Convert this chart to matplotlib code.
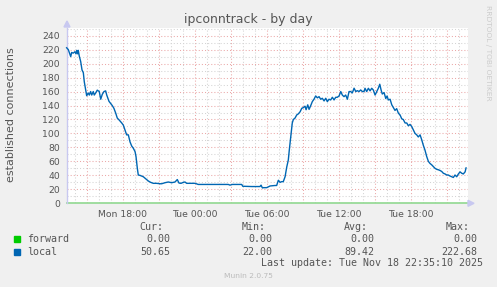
import matplotlib
matplotlib.use("Agg")
import matplotlib.pyplot as plt
from matplotlib.patches import Rectangle, Polygon
import numpy as np

# hours since Mon 00:00
hours = [13.33, 13.47, 13.67, 13.75, 13.88, 14.02, 14.11, 14.17, 14.25, 14.30, 14.38, 14.50,
         14.61, 14.72, 14.80, 14.92, 15.00, 15.13, 15.22, 15.33, 15.42, 15.55, 15.63, 15.75,
         15.88, 16.05, 16.17, 16.30, 16.44, 16.58, 16.67, 16.86, 17.00, 17.13, 17.27, 17.42,
         17.55, 17.72, 17.92, 18.05, 18.19, 18.33, 18.47, 18.61, 18.75, 18.88, 19.03, 19.11,
         19.22, 19.30, 19.44, 19.58, 19.72, 19.86, 20.00, 20.13, 20.33, 20.55, 20.83, 21.11,
         21.25, 21.53, 21.80, 22.08, 22.36, 22.55, 22.69, 22.86, 23.05, 23.19, 23.33, 23.75,
         24.03, 24.17, 24.30, 24.86, 25.42, 26.25, 26.80, 26.94, 27.13, 27.92, 28.00, 28.75,
         29.44, 29.53, 29.64, 29.72, 30.00, 30.28, 30.69, 30.83, 30.97, 31.11, 31.25, 31.38,
         31.53, 31.67, 31.80, 31.88, 32.03, 32.13, 32.22, 32.36, 32.50, 32.63, 32.78, 32.92,
         33.05, 33.19, 33.28, 33.42, 33.53, 33.67, 33.80, 33.94, 34.08, 34.22, 34.36, 34.50,
         34.63, 34.78, 34.92, 35.05, 35.19, 35.33, 35.47, 35.61, 35.75, 35.88, 36.03, 36.17,
         36.30, 36.44, 36.58, 36.72, 36.86, 37.00, 37.13, 37.28, 37.42, 37.55, 37.69, 37.83,
         37.97, 38.11, 38.19, 38.33, 38.47, 38.61, 38.75, 38.88, 39.03, 39.17, 39.30, 39.42,
         39.53, 39.63, 39.78, 39.92, 40.03, 40.13, 40.28, 40.42, 40.55, 40.69, 40.83, 40.97,
         41.11, 41.25, 41.38, 41.53, 41.67, 41.80, 41.94, 42.08, 42.22, 42.36, 42.50, 42.63,
         42.78, 42.92, 43.05, 43.19, 43.33, 43.47, 43.61, 43.75, 43.88, 44.03, 44.17, 44.30,
         44.44, 44.58, 44.72, 44.86, 45.00, 45.13, 45.28, 45.42, 45.55, 45.69, 45.83, 45.97,
         46.11, 46.25, 46.38, 46.53, 46.61]
local = [222.7, 220, 210, 216, 215, 217, 214, 219, 214, 219, 211, 203,
         191, 187, 174, 162, 154, 158, 155, 160, 155, 160, 155, 158,
         162, 160, 149, 156, 160, 161, 155, 146, 143, 140, 136, 129,
         122, 119, 115, 112, 105, 98, 98, 88, 82, 79, 74, 67,
         50, 40.5, 40, 39, 38, 36, 34, 32, 30, 28.6, 28.6, 28,
         28, 29.5, 30.5, 29.5, 30.5, 34, 29, 28.6, 30, 30.5, 28.6, 28.6,
         28.6, 27.7, 27, 27, 27, 27, 27, 26, 27, 27, 24.4, 24,
         24, 26, 22, 22.4, 22.4, 24.8, 25.5, 25.5, 33, 30, 31, 31,
         38, 52, 62, 76, 100, 115, 120, 122, 126.5, 128, 131, 136,
         137, 139, 134, 141, 134.5, 140, 145.6, 149, 153.7, 151, 152.7, 149,
         150.4, 146.6, 150.4, 145.6, 149, 148, 151.8, 148, 151.8, 151.8, 153.7, 160,
         155, 152.7, 155, 149, 160, 160, 158, 164.8, 160, 161.3, 160, 162.3,
         160, 160, 164.7, 160, 164.7, 161, 164.7, 162.3, 155, 160, 164.7, 170.5,
         162.3, 156.5, 158.5, 150, 153.7, 148, 149, 141, 137, 133, 135.5, 129,
         126.5, 121, 120, 115, 115, 111, 113, 110, 105, 100, 98, 95,
         98, 90.7, 83, 76, 67, 60, 57, 55, 52.6, 50, 48.6, 48,
         47, 45.6, 43, 42, 40.5, 40.5, 39, 38, 37, 40.5, 38, 42,
         45, 43, 42, 45, 50.65]
forward = [0.0] * len(hours)

tick_hours = [15, 18, 21, 24, 27, 30, 33, 36, 39, 42, 45]
tick_names = {18: "Mon 18:00", 24: "Tue 00:00", 30: "Tue 06:00",
              36: "Tue 12:00", 42: "Tue 18:00"}

legend_rows = [("forward", "#00CC00", ["0.00", "0.00", "0.00", "0.00"]),
               ("local", "#0066B3", ["50.65", "22.00", "89.42", "222.68"])]
legend_heads = ["Cur:", "Min:", "Avg:", "Max:"]

W, H = 497, 287
fig = plt.figure(figsize=(W / 100, H / 100), dpi=100, facecolor="#F0F0F0")
ax = fig.add_axes([67 / W, 1 - 203.3 / H, 400.5 / W, 175.3 / H])
ax.set_facecolor("white")

ax.set_xlim(13.36, 46.73)
ax.set_ylim(0, 251)

ax.set_xticks(tick_hours)
ax.set_xticklabels([tick_names.get(h, "") for h in tick_hours])
ax.set_xticks(np.arange(14, 47, 1), minor=True)
ax.set_yticks(np.arange(0, 241, 20))
ax.set_yticks(np.arange(10, 251, 20), minor=True)

ax.grid(which="major", color="#EBA8A8", linestyle=(0, (1, 2)), linewidth=0.75)
ax.grid(which="minor", color="#D4D4D4", linestyle=(0, (1, 2)), linewidth=0.75)
ax.set_axisbelow(True)

ax.tick_params(which="both", length=0, labelsize=6.7, labelcolor="#555555")
ax.tick_params(axis="x", pad=4.5)
ax.tick_params(axis="y", pad=5)

for s in ["top", "right", "bottom"]:
    ax.spines[s].set_visible(False)
ax.spines["left"].set_color("#C8C8F0")
ax.spines["left"].set_linewidth(1)

ax.plot(hours, local, color="#0066B3", linewidth=1.0, clip_on=False, zorder=3)
ax.plot([13.36, 46.73], [0, 0], color="#90D890", linewidth=1.2, clip_on=False, zorder=2)

# axis arrows
fig.add_artist(Polygon([[64 / W, 1 - 27 / H], [70 / W, 1 - 27 / H], [67 / W, 1 - 21 / H]],
                       closed=True, transform=fig.transFigure, color="#C8C8F0"))
fig.add_artist(Polygon([[468 / W, 1 - 200.3 / H], [468 / W, 1 - 206.3 / H], [474 / W, 1 - 203.3 / H]],
                       closed=True, transform=fig.transFigure, color="#C8C8F0"))

fig.text(248.5 / W, 1 - 19 / H, "ipconntrack - by day", ha="center", va="center",
         fontsize=9, color="#555555")
fig.text(11 / W, 1 - 114.5 / H, "established connections", ha="center", va="center",
         rotation=90, fontsize=8, color="#555555")
fig.text(488 / W, 1 - 53 / H, "RRDTOOL / TOBI OETIKER", ha="center", va="center",
         rotation=270, fontsize=5.4, color="#CCCCCC")

mono = "DejaVu Sans Mono"
col_right = [170, 272, 374, 477]
head_right = [163, 266, 368, 470]
for x, t in zip(head_right, legend_heads):
    fig.text(x / W, 1 - 227 / H, t, ha="right", va="center", family=mono,
             fontsize=7.2, color="#555555")
for i, (name, color, vals) in enumerate(legend_rows):
    y = 239.3 + i * 12.4
    fig.add_artist(Rectangle((14 / W, 1 - (y + 3) / H), 6 / W, 6 / H,
                             transform=fig.transFigure, color=color))
    fig.text(26.7 / W, 1 - y / H, name, ha="left", va="center", family=mono,
             fontsize=7.2, color="#555555")
    for x, v in zip(col_right, vals):
        fig.text(x / W, 1 - y / H, v, ha="right", va="center", family=mono,
                 fontsize=7.2, color="#555555")
fig.text(482.7 / W, 1 - 263.3 / H, "Last update: Tue Nov 18 22:35:10 2025", ha="right",
         va="center", family=mono, fontsize=7.2, color="#555555")
fig.text(248 / W, 1 - 276 / H, "Munin 2.0.75", ha="center", va="center",
         fontsize=5.4, color="#BBBBBB")

fig.savefig("out.png", dpi=100, facecolor=fig.get_facecolor())
